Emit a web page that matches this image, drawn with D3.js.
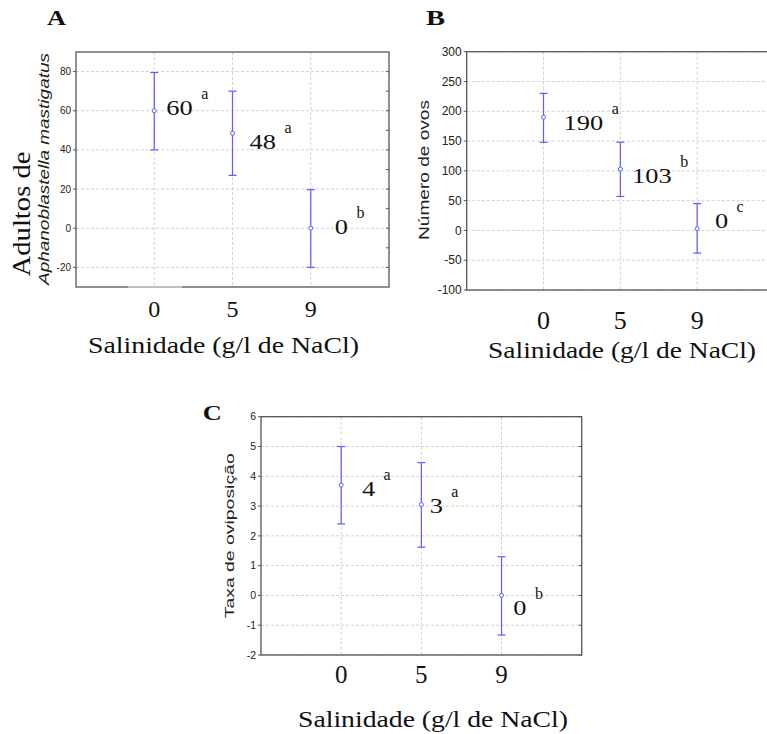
<html>
<head>
<script src="https://d3js.org/d3.v7.min.js"></script>
<style>
body { margin: 0; background: #fff; }
</style>
</head>
<body>
<svg id="chart"></svg>
<script>
// salinity levels (g/l NaCl)
var categories = ["0", "5", "9"];

// A: adults of Aphanoblastella mastigatus
var adultsMean = [60, 48.5, 0];
var adultsUpper = [79.5, 70, 19.7];
var adultsLower = [40, 27, -20];
var adultsLabels = ["60", "48", "0"];
var adultsLetters = ["a", "a", "b"];
var adultsTicks = [-20, 0, 20, 40, 60, 80];
var adultsMinor = [-20, -10, 0, 10, 20, 30, 40, 50, 60, 70, 80];

// B: number of eggs
var eggsMean = [190, 103, 3];
var eggsUpper = [230, 148, 45];
var eggsLower = [148, 57, -38];
var eggsLabels = ["190", "103", "0"];
var eggsLetters = ["a", "b", "c"];
var eggsTicks = [-100, -50, 0, 50, 100, 150, 200, 250, 300];

// C: oviposition rate
var rateMean = [3.7, 3.05, 0];
var rateUpper = [5.0, 4.46, 1.3];
var rateLower = [2.4, 1.62, -1.33];
var rateLabels = ["4", "3", "0"];
var rateLetters = ["a", "a", "b"];
var rateTicks = [-2, -1, 0, 1, 2, 3, 4, 5, 6];

var blue = "#5c5cff";
var SERIF = "'Liberation Serif', 'Times New Roman', serif";
var SANS = "'Liberation Sans', Arial, sans-serif";
var svg = d3.select("#chart").attr("width", 767).attr("height", 734);

function serif(sel, size) {
	return sel.attr("font-family", SERIF).style("font-family", SERIF)
		.attr("fill", "#111").style("font-size", size + "px");
}
function sans(sel, size) {
	return sel.attr("font-family", SANS).style("font-family", SANS)
		.attr("fill", "#222").style("font-size", size + "px");
}

function drawPanel(p) {
	var g = svg.append("g");
	var x = d3.scalePoint().domain(categories).range([p.left, p.right]).padding(1);
	var y = d3.scaleLinear().domain(p.domain).range([p.bottom, p.top]);

	// dashed grid
	g.selectAll(".hgrid").data(p.ticks).join("line")
		.attr("x1", p.left).attr("x2", p.right)
		.attr("y1", function(d) { return y(d); }).attr("y2", function(d) { return y(d); })
		.attr("stroke", "#d2d2d2").attr("stroke-dasharray", "3,2");
	g.selectAll(".vgrid").data(categories).join("line")
		.attr("x1", function(d) { return x(d); }).attr("x2", function(d) { return x(d); })
		.attr("y1", p.top).attr("y2", p.bottom)
		.attr("stroke", "#d2d2d2").attr("stroke-dasharray", "3,2");

	// frame
	g.append("rect")
		.attr("x", p.left).attr("y", p.top)
		.attr("width", p.right - p.left).attr("height", p.bottom - p.top)
		.attr("fill", "none").attr("stroke", "#555").attr("stroke-width", 1.3);

	// left ticks and labels
	g.selectAll(".lt").data(p.ticks).join("line")
		.attr("x1", p.left - 3).attr("x2", p.left)
		.attr("y1", function(d) { return y(d); }).attr("y2", function(d) { return y(d); })
		.attr("stroke", "#555");
	sans(g.selectAll(".tl").data(p.ticks).join("text"), p.tickSize)
		.attr("x", p.left - 5)
		.attr("y", function(d) { return y(d); })
		.attr("dy", "0.35em")
		.attr("text-anchor", "end")
		.text(function(d) { return String(d); });

	// right inner ticks
	g.selectAll(".rt").data(p.rightTicks).join("line")
		.attr("x1", p.right - 3).attr("x2", p.right)
		.attr("y1", function(d) { return y(d); }).attr("y2", function(d) { return y(d); })
		.attr("stroke", "#555");

	// category labels
	serif(g.selectAll(".xl").data(categories).join("text"), p.xTickSize)
		.attr("x", function(d) { return x(d); })
		.attr("y", p.xTickY)
		.attr("text-anchor", "middle")
		.text(function(d) { return d; });

	// x title
	serif(g.append("text"), 23)
		.attr("x", p.xTitle[0]).attr("y", p.xTitle[1])
		.attr("textLength", p.xTitle[2]).attr("lengthAdjust", "spacingAndGlyphs")
		.text("Salinidade (g/l de NaCl)");

	// panel letter
	serif(g.append("text"), 22)
		.attr("x", p.letter[0]).attr("y", p.letter[1])
		.attr("textLength", 19).attr("lengthAdjust", "spacingAndGlyphs")
		.style("font-weight", "bold")
		.text(p.name);

	// error bars
	var rows = categories.map(function(c, i) {
		return { c: c, mean: p.mean[i], lo: p.lower[i], hi: p.upper[i], label: p.labels[i], letter: p.letters[i], off: p.offsets[i] };
	});
	var bar = g.selectAll(".bar").data(rows).join("g");
	bar.append("line")
		.attr("x1", function(d) { return x(d.c); }).attr("x2", function(d) { return x(d.c); })
		.attr("y1", function(d) { return y(d.lo); }).attr("y2", function(d) { return y(d.hi); })
		.attr("stroke", blue).attr("stroke-width", 1.2);
	bar.selectAll(".cap").data(function(d) { return [[d.c, d.lo], [d.c, d.hi]]; }).join("line")
		.attr("x1", function(d) { return x(d[0]) - 4; }).attr("x2", function(d) { return x(d[0]) + 4; })
		.attr("y1", function(d) { return y(d[1]); }).attr("y2", function(d) { return y(d[1]); })
		.attr("stroke", blue).attr("stroke-width", 1.2);
	bar.append("circle")
		.attr("cx", function(d) { return x(d.c); })
		.attr("cy", function(d) { return y(d.mean); })
		.attr("r", 2)
		.attr("fill", "#fff").attr("stroke", blue).attr("stroke-width", 1);

	// mean labels with significance letters
	serif(bar.append("text"), 22)
		.attr("x", function(d) { return x(d.c) + d.off[0]; })
		.attr("y", function(d) { return y(d.mean) + d.off[1]; })
		.attr("textLength", function(d) { return d.label.length * 13.2; })
		.attr("lengthAdjust", "spacingAndGlyphs")
		.text(function(d) { return d.label; });
	serif(bar.append("text"), 16)
		.attr("x", function(d) { return x(d.c) + d.off[0] + d.label.length * 13.2 + 8.5; })
		.attr("y", function(d) { return y(d.mean) + d.off[1] - 16; })
		.text(function(d) { return d.letter; });

	return g;
}

// Panel A
var gA = drawPanel({
	name: "A", letter: [47, 25],
	left: 76, right: 389, top: 52, bottom: 287, domain: [-30, 90],
	ticks: adultsTicks, rightTicks: adultsMinor, tickSize: 10,
	mean: adultsMean, upper: adultsUpper, lower: adultsLower,
	labels: adultsLabels, letters: adultsLetters,
	offsets: [[12, 4], [17, 16], [24, 6]],
	xTickY: 316.5, xTickSize: 24, xTitle: [88, 353, 271]
});
// light patch on bottom axis
gA.append("line").attr("x1", 128).attr("x2", 182).attr("y1", 287).attr("y2", 287)
	.attr("stroke", "#cfcfcf").attr("stroke-width", 1.5);
serif(gA.append("text"), 26)
	.attr("transform", "translate(30,214) rotate(-90)")
	.attr("text-anchor", "middle")
	.attr("textLength", 125).attr("lengthAdjust", "spacingAndGlyphs")
	.text("Adultos de");
sans(gA.append("text"), 14)
	.attr("transform", "translate(48.5,169) rotate(-90)")
	.attr("text-anchor", "middle")
	.attr("textLength", 232).attr("lengthAdjust", "spacingAndGlyphs")
	.style("font-style", "italic")
	.text("Aphanoblastella mastigatus");

// Panel B
var gB = drawPanel({
	name: "B", letter: [426, 25],
	left: 466.7, right: 774, top: 51.7, bottom: 290, domain: [-100, 300],
	ticks: eggsTicks, rightTicks: eggsTicks, tickSize: 12,
	mean: eggsMean, upper: eggsUpper, lower: eggsLower,
	labels: eggsLabels, letters: eggsLetters,
	offsets: [[20, 13], [11.7, 14], [17.7, -0.5]],
	xTickY: 328.5, xTickSize: 26, xTitle: [488, 358, 268]
});
sans(gB.append("text"), 14)
	.attr("transform", "translate(429,170) rotate(-90)")
	.attr("text-anchor", "middle")
	.attr("textLength", 140).attr("lengthAdjust", "spacingAndGlyphs")
	.text("Número de ovos");

// Panel C
var gC = drawPanel({
	name: "C", letter: [202.7, 420],
	left: 261, right: 581.7, top: 416.7, bottom: 655, domain: [-2, 6],
	ticks: rateTicks, rightTicks: rateTicks, tickSize: 10.5,
	mean: rateMean, upper: rateUpper, lower: rateLower,
	labels: rateLabels, letters: rateLetters,
	offsets: [[20.7, 11], [8.3, 8.3], [11.7, 19.7]],
	xTickY: 683, xTickSize: 25, xTitle: [298, 726.5, 270]
});
sans(gC.append("text"), 13)
	.attr("transform", "translate(234.3,535.8) rotate(-90)")
	.attr("text-anchor", "middle")
	.attr("textLength", 165).attr("lengthAdjust", "spacingAndGlyphs")
	.text("Taxa de oviposição");
</script>
</body>
</html>
